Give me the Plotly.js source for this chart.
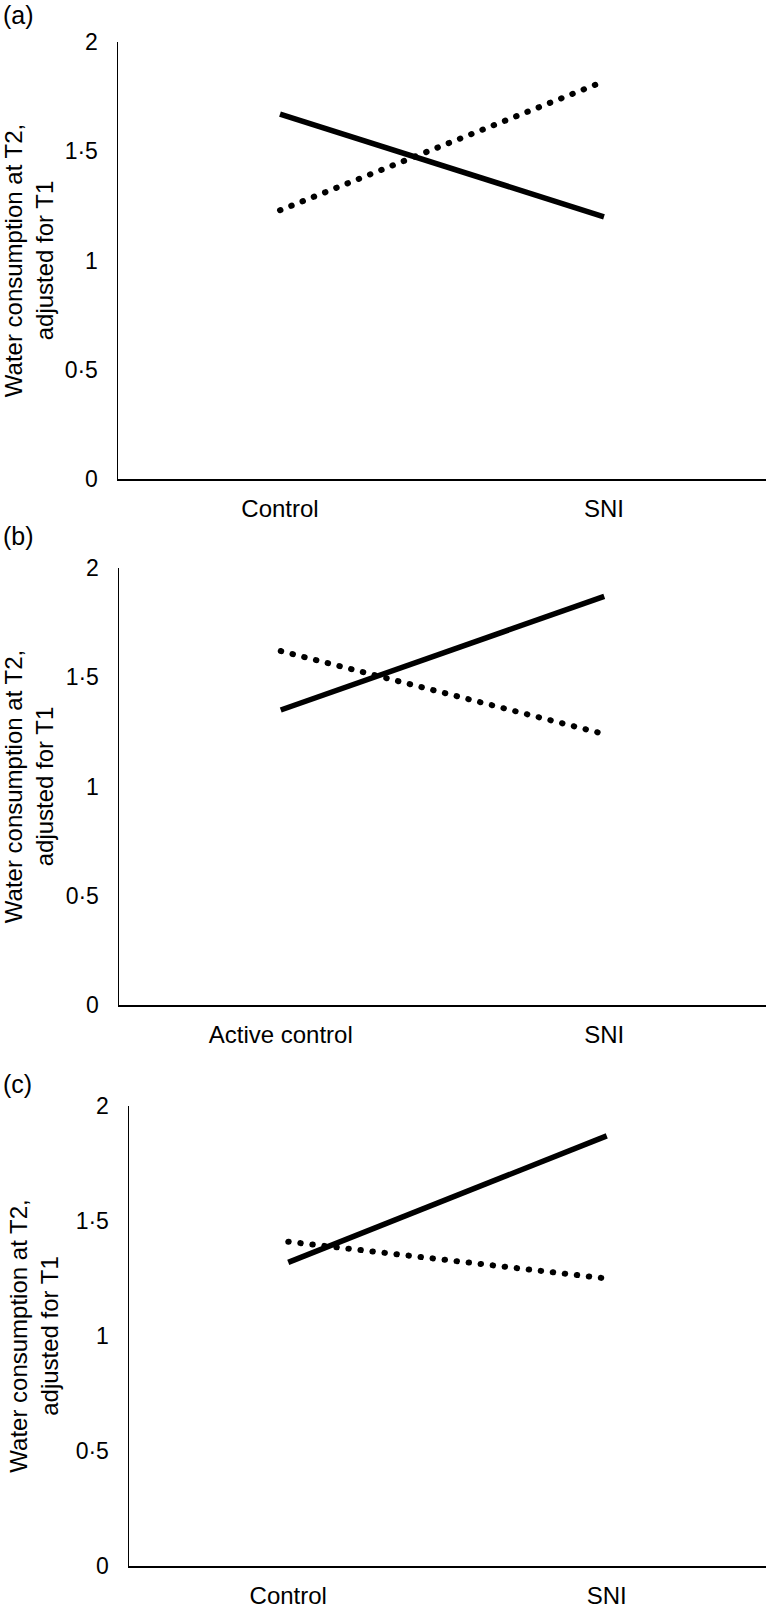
<!DOCTYPE html>
<html>
<head>
<meta charset="utf-8">
<script src="https://cdn.plot.ly/plotly-3.0.1.min.js"></script>
<style>
html,body{margin:0;padding:0;background:#fff;}
#chart{width:777px;height:1611px;}
.scatterlayer .trace:nth-child(2) path.js-line{stroke-linecap:round !important;}
</style>
</head>
<body>
<div id="chart"></div>
<script>
// ---- data ----
var catsA = ['Control', 'SNI'];
var solidA = [1.67, 1.20];
var dottedA = [1.23, 1.82];

var catsB = ['Active control', 'SNI'];
var solidB = [1.35, 1.87];
var dottedB = [1.62, 1.24];

var catsC = ['Control', 'SNI'];
var solidC = [1.32, 1.87];
var dottedC = [1.41, 1.25];

var yTickVals = [0, 0.5, 1, 1.5, 2];
var yTickText = ['0', '0·5', '1', '1·5', '2'];
var yTitle = 'Water consumption at T2,<br>adjusted for T1';
var panelLabels = ['(a)', '(b)', '(c)'];

// ---- style ----
var FONT = 'Liberation Sans, Arial, Helvetica, sans-serif';
var solidStyle = {color: '#000', width: 5.5, dash: 'solid'};
var dotStyle = {color: '#000', width: 6, dash: '0.5px,11.6px'};

function tr(x, y, line, xa, ya) {
  return {type: 'scatter', mode: 'lines', x: x, y: y, line: line,
          xaxis: xa, yaxis: ya, showlegend: false, hoverinfo: 'skip'};
}

var data = [
  tr(catsA, solidA, solidStyle, 'x', 'y'),
  tr(catsA, dottedA, dotStyle, 'x', 'y'),
  tr(catsB, solidB, solidStyle, 'x2', 'y2'),
  tr(catsB, dottedB, dotStyle, 'x2', 'y2'),
  tr(catsC, solidC, solidStyle, 'x3', 'y3'),
  tr(catsC, dottedC, dotStyle, 'x3', 'y3')
];

function xax(domain, anchor) {
  return {domain: domain, anchor: anchor, type: 'category', range: [-0.5, 1.5],
          showline: true, linecolor: '#000', linewidth: 1.5, showgrid: false,
          zeroline: false, ticks: '', ticklabelstandoff: 8,
          tickfont: {family: FONT, size: 24, color: '#000'}, fixedrange: true};
}
function yax(domain, anchor) {
  return {domain: domain, anchor: anchor, range: [0, 2],
          tickvals: yTickVals, ticktext: yTickText,
          showline: true, linecolor: '#000', linewidth: 1.5, showgrid: false,
          zeroline: false, ticks: '', ticklabelstandoff: 14,
          tickfont: {family: FONT, size: 23, color: '#000'},
          title: {text: yTitle, standoff: 10, font: {family: FONT, size: 24, color: '#000'}},
          fixedrange: true};
}

var W = 777, H = 1611;
function fx(px) { return px / W; }
function fy(px) { return 1 - px / H; }

var layout = {
  width: W, height: H,
  margin: {l: 0, r: 0, t: 0, b: 0},
  paper_bgcolor: '#fff', plot_bgcolor: '#fff',
  font: {family: FONT, color: '#000'},
  xaxis: xax([fx(118), fx(766)], 'y'),
  yaxis: yax([fy(479), fy(42)], 'x'),
  xaxis2: xax([fx(119), fx(766)], 'y2'),
  yaxis2: yax([fy(1005), fy(568)], 'x2'),
  xaxis3: xax([fx(129), fx(766)], 'y3'),
  yaxis3: yax([fy(1566), fy(1106)], 'x3'),
  annotations: [
    {text: panelLabels[0], xref: 'paper', yref: 'paper', x: fx(1), y: fy(15), xanchor: 'left', yanchor: 'middle', showarrow: false, font: {family: FONT, size: 25, color: '#000'}},
    {text: panelLabels[1], xref: 'paper', yref: 'paper', x: fx(1), y: fy(536), xanchor: 'left', yanchor: 'middle', showarrow: false, font: {family: FONT, size: 25, color: '#000'}},
    {text: panelLabels[2], xref: 'paper', yref: 'paper', x: fx(1), y: fy(1084), xanchor: 'left', yanchor: 'middle', showarrow: false, font: {family: FONT, size: 25, color: '#000'}}
  ]
};

Plotly.newPlot('chart', data, layout, {displayModeBar: false, staticPlot: true});
</script>
</body>
</html>
